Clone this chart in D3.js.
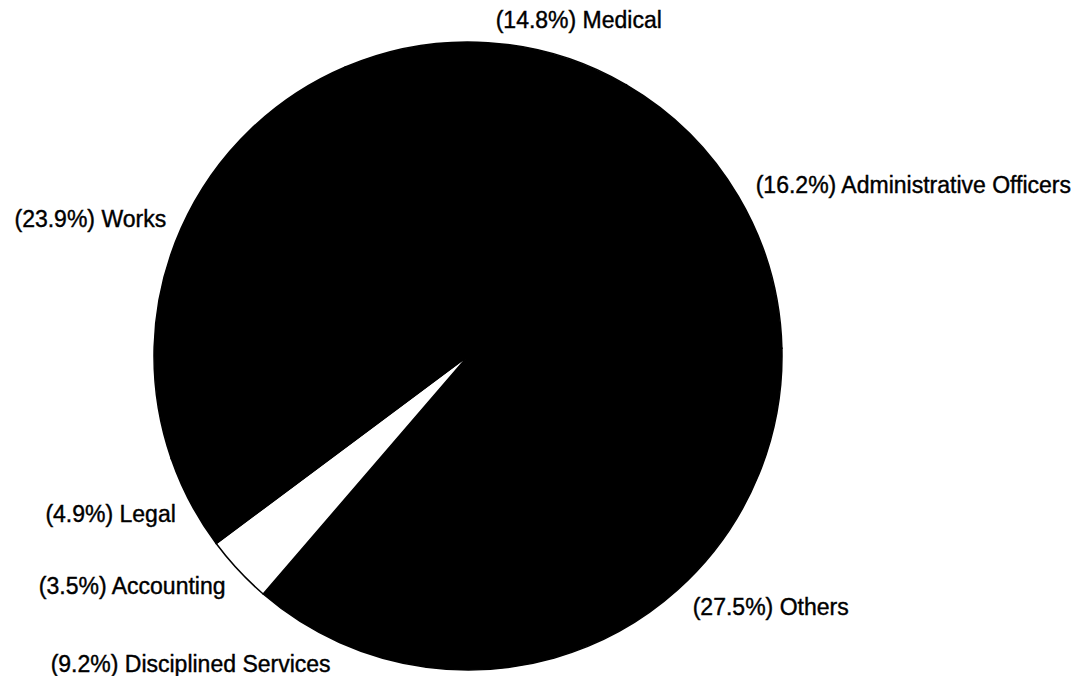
<!doctype html>
<html>
<head>
	<meta charset="utf-8">
	<title>Pie</title>
	<script src="https://cdnjs.cloudflare.com/ajax/libs/d3/7.8.5/d3.min.js"></script>
	<style>
		body { margin: 0; background: #fff; }
		text { font-family: "Liberation Sans", Arial, sans-serif; font-size: 23px; fill: #000; stroke: #000; stroke-width: 0.4px; }
	</style>
</head>
<body>
	<script>
		// slices, clockwise from the top
		var categories = ['Medical', 'Administrative Officers', 'Others', 'Disciplined Services', 'Accounting', 'Legal', 'Works'];
		var shares = [14.8, 16.2, 27.5, 9.2, 3.5, 4.9, 23.9];
		var fills = ['#000', '#000', '#000', '#000', '#fff', '#000', '#000'];

		var width = 1076, height = 676;
		var cx = 468, cy = 356, r = 314;

		var svg = d3.select('body').append('svg')
			.attr('width', width)
			.attr('height', height);

		var g = svg.append('g')
			.attr('transform', 'translate(' + cx + ',' + cy + ')');

		var start = -23 * Math.PI / 180;
		var pie = d3.pie()
			.sort(null)
			.value(function(d) { return d; })
			.startAngle(start)
			.endAngle(start + 2 * Math.PI);

		var arcs = pie(shares);
		var arc = d3.arc().innerRadius(0).outerRadius(r);

		g.selectAll('path')
			.data(arcs)
			.enter()
			.append('path')
			.attr('d', arc)
			.attr('fill', function(d, i) { return fills[i]; })
			.attr('stroke', '#000')
			.attr('stroke-width', 1.5);

		// labels just outside the rim, at the middle of each slice
		var lr = r + 12;
		g.selectAll('text')
			.data(arcs)
			.enter()
			.append('text')
			.each(function(d, i) {
				var a = (d.startAngle + d.endAngle) / 2;
				var s = Math.sin(a), c = Math.cos(a);
				var x = lr * s, y = -lr * c;
				var right = s >= 0;
				d3.select(this)
					.attr('x', x + (right ? 7 : -4))
					.attr('y', y - 11 * c)
					.attr('dy', '0.35em')
					.attr('text-anchor', right ? 'start' : 'end')
					.text('(' + shares[i].toFixed(1) + '%) ' + categories[i]);
			});
	</script>
</body>
</html>
